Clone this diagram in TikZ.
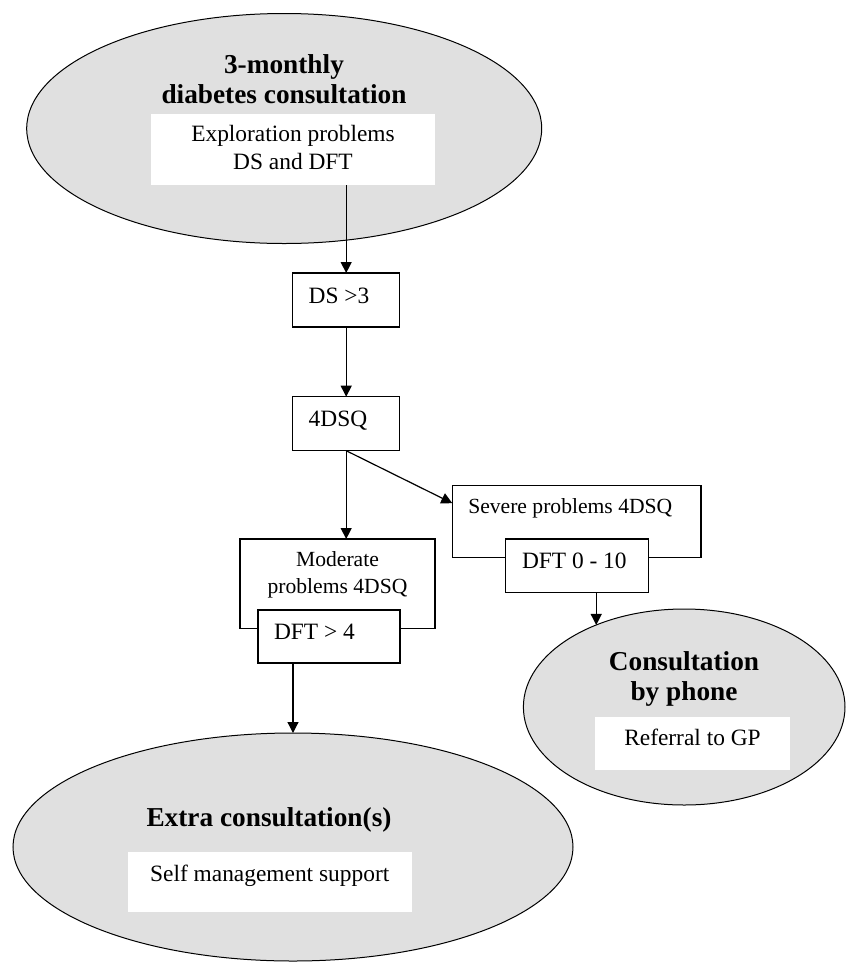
\documentclass[tikz,border=0pt]{standalone}
\usepackage{fontspec}
\setmainfont{Liberation Serif}
\usetikzlibrary{arrows.meta,shapes.geometric}
\definecolor{ovalgray}{RGB}{224,224,224}
\begin{document}
\begin{tikzpicture}[x=1pt,y=-1pt,
  oval/.style={ellipse, draw, fill=ovalgray, line width=1pt, inner sep=0pt, outer sep=0pt},
  wbox/.style={rectangle, fill=white, inner sep=0pt, align=center},
  frame/.style={rectangle, draw, line width=1.2pt, inner sep=0pt, outer sep=0pt},
  sbox/.style={rectangle, draw, fill=white, line width=1.2pt, inner sep=0pt, outer sep=0pt,
               align=flush left, text height=10pt, text depth=4pt},
  ttl/.style={anchor=base, inner sep=0pt, font=\fontsize{27.3}{30}\selectfont\bfseries},
  txt/.style={font=\fontsize{23.4}{27.6}\selectfont},
  mtxt/.style={font=\fontsize{21.6}{26.3}\selectfont},
  conn/.style={line width=1.2pt, -{Triangle[length=11pt,width=11pt]}}
]
\useasboundingbox (0,0) rectangle (849,962);

% top ellipse
\node[oval, minimum width=515pt, minimum height=230pt] (top) at (284.2,128.5) {};
\node[ttl] (toptitle) at (284,73.3) {\begin{tabular}[t]{@{}c@{}}3-monthly\\diabetes consultation\end{tabular}};
\node[wbox, txt, minimum width=284pt, minimum height=71pt, text height=10pt, text depth=25.6pt] (expl) at (293,149.5)
  {\begin{tabular}[t]{@{}c@{}}Exploration problems\\DS and DFT\end{tabular}};

% small boxes
\node[sbox, txt, minimum width=107pt, minimum height=54pt, text width=75pt] (ds3) at (346.2,300) {DS >3};
\node[sbox, txt, minimum width=107pt, minimum height=54pt, text width=75pt] (dsq) at (346.2,423.7) {4DSQ};

% moderate
\node[frame, mtxt, minimum width=195pt, minimum height=89.3pt, text height=10pt, text depth=43.9pt] (mod) at (337.5,583.65)
  {\begin{tabular}[t]{@{}c@{}}Moderate\\problems 4DSQ\end{tabular}};
\node[sbox, txt, minimum width=142pt, minimum height=53pt, text width=110pt] (dft4) at (329,636.5) {DFT > 4};

% severe
\node[frame, mtxt, minimum width=248.7pt, minimum height=71.6pt, text width=216.7pt, align=flush left,
      text height=10pt, text depth=26.4pt] (sev) at (576.65,521.5) {Severe problems 4DSQ};
\node[sbox, txt, minimum width=142.6pt, minimum height=53.7pt, text width=110pt] (d10) at (577,565.9) {DFT 0 - 10};

% phone ellipse
\node[oval, minimum width=321.6pt, minimum height=196pt] (phone) at (684.2,707) {};
\node[ttl] (phonetitle) at (684,670) {\begin{tabular}[t]{@{}c@{}}Consultation\\by phone\end{tabular}};
\node[wbox, txt, minimum width=195pt, minimum height=53.3pt, text height=10pt, text depth=6.6pt] (gp) at (692.5,743.3)
  {Referral to GP};

% bottom ellipse
\node[oval, minimum width=560pt, minimum height=228pt] (ext) at (293,847) {};
\node[ttl] (exttitle) at (269,826.7) {Extra consultation(s)};
\node[wbox, txt, minimum width=284pt, minimum height=59.4pt, text height=10pt, text depth=10.6pt] (sms) at (269.7,882)
  {Self management support};

% connectors
\draw[conn] (ds3.north |- expl.south) -- (ds3.north);
\draw[conn] (ds3.south) -- (dsq.north);
\draw[conn] (dsq.south) -- (dsq.south |- mod.north);
\draw[conn] (dsq.south) -- ([yshift=-17.5pt]sev.north west);
\draw[conn] (phone.137.6 |- d10.south) -- (phone.137.6);
\draw[conn] (ext.north |- dft4.south) -- (ext.north);
\end{tikzpicture}
\end{document}
